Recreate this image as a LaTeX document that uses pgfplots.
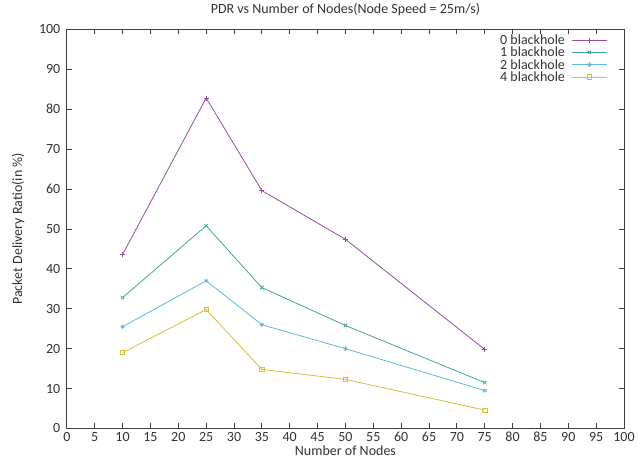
\documentclass[border=0pt]{standalone}
\usepackage{pgfplots}
\pgfplotsset{compat=1.18}
\usepackage{fontspec}
\setmainfont{Carlito}
\definecolor{c0}{RGB}{148,78,165}
\definecolor{c1}{RGB}{70,165,155}
\definecolor{c2}{RGB}{95,185,220}
\definecolor{c3}{RGB}{215,190,60}
\begin{document}
\begin{tikzpicture}
\begin{axis}[
  scale only axis,
  width=557pt, height=399pt,
  xmin=0, xmax=100, ymin=0, ymax=100,
  xtick distance=5, ytick distance=10,
  tick align=inside,
  major tick length=5pt,
  axis line style={line width=0.9pt, black!75},
  every tick/.style={black!75, line width=0.8pt},
  /pgf/number format/assume math mode=true,
  ticklabel style={font=\fontsize{14}{16}\selectfont, text=black!80},
  yticklabel style={xshift=-3pt},
  title={PDR vs Number of Nodes(Node Speed = 25m/s)},
  title style={font=\fontsize{14}{16}\selectfont, text=black!80, yshift=4pt},
  xlabel={Number of Nodes},
  ylabel={Packet Delivery Ratio(in \%)},
  label style={font=\fontsize{14}{16}\selectfont, text=black!80},
  xlabel style={yshift=3pt},
  ylabel style={inner ysep=12pt, yshift=-1pt},
  legend plot pos=right,
  legend cell align=right,
  legend style={at={(0.975,0.99)}, anchor=north east, draw=none, fill=none,
    font=\fontsize{14}{14}\selectfont, text=black!80, row sep=3.3pt,
    nodes={inner ysep=0pt, text height=9pt, text depth=0pt},
    /tikz/every odd column/.append style={column sep=5pt}},
  legend image code/.code={\draw[mark repeat=2,mark phase=2,#1] plot coordinates {(0cm,0cm)(0.6cm,0cm)(1.2cm,0cm)};},
  every axis plot/.append style={line width=0.8pt},
]
\addplot[color=c0, mark=+, mark size=2.5pt] coordinates {(10,43.6) (25,82.8) (35,59.6) (50,47.4) (75,19.8)};
\addlegendentry{0 blackhole}
\addplot[color=c1, mark=x, mark size=2.5pt] coordinates {(10,32.8) (25,50.8) (35,35.3) (50,25.8) (75,11.5)};
\addlegendentry{1 blackhole}
\addplot[color=c2, mark=asterisk, mark size=2.2pt] coordinates {(10,25.5) (25,37.0) (35,26.0) (50,20.0) (75,9.5)};
\addlegendentry{2 blackhole}
\addplot[color=c3, mark=square, mark size=2.2pt] coordinates {(10,19.0) (25,29.8) (35,14.8) (50,12.3) (75,4.6)};
\addlegendentry{4 blackhole}
\end{axis}
\end{tikzpicture}
\end{document}
